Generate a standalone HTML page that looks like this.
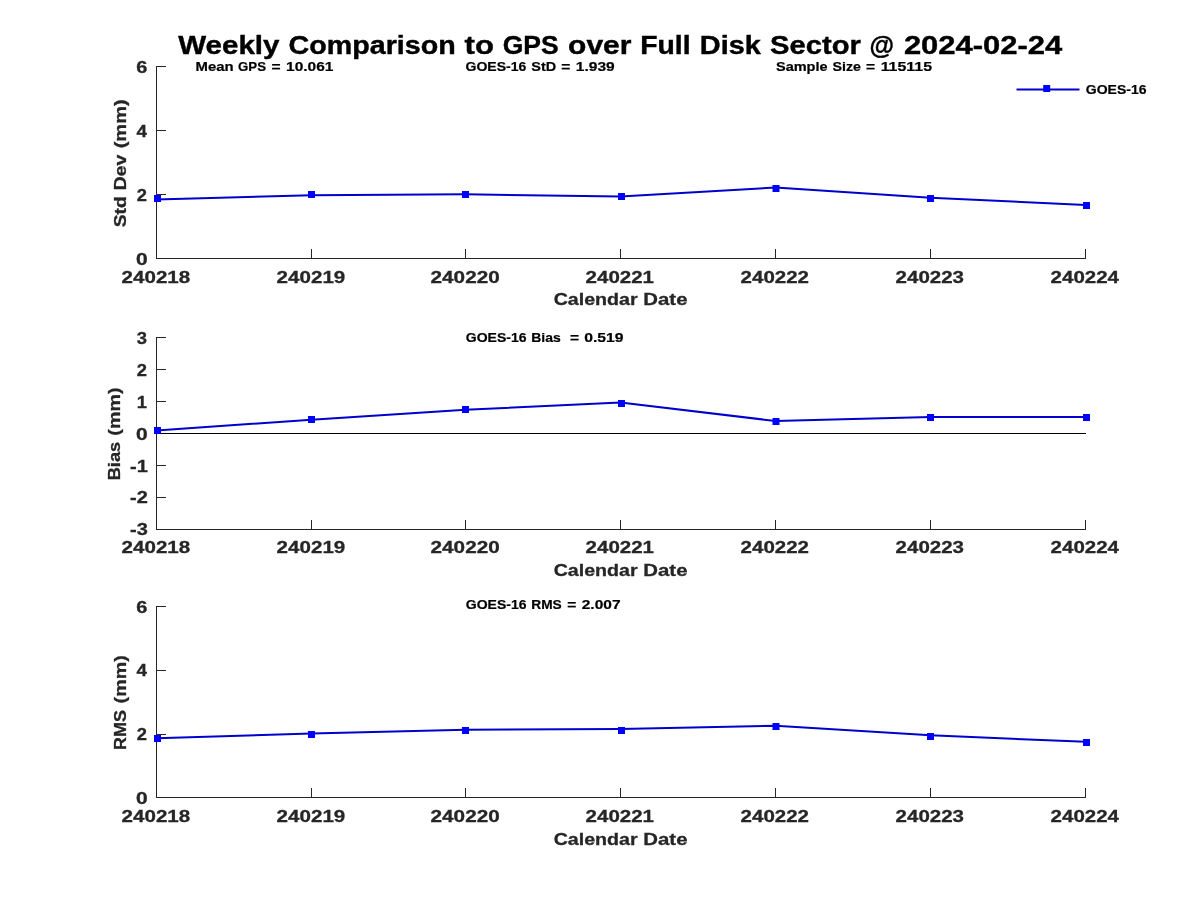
<!DOCTYPE html>
<html><head><meta charset="utf-8"><title>Weekly Comparison to GPS</title>
<style>
html,body{margin:0;padding:0;background:#fff;}
body{width:1200px;height:900px;overflow:hidden;}
svg{display:block;will-change:transform;}
svg text{font-family:"Liberation Sans", sans-serif;font-weight:bold;}
</style></head><body>
<svg width="1200" height="900" viewBox="0 0 1200 900">
<rect x="0" y="0" width="1200" height="900" fill="#ffffff"/>
<text x="177.48" y="53.90" font-size="25.80" fill="#000" stroke="#000" stroke-width="0.4" xml:space="preserve"><tspan x="178.20" textLength="101.28" lengthAdjust="spacingAndGlyphs">Weekly</tspan> <tspan x="288.56" textLength="167.18" lengthAdjust="spacingAndGlyphs">Comparison</tspan> <tspan x="464.59" textLength="29.37" lengthAdjust="spacingAndGlyphs">to</tspan> <tspan x="502.70" textLength="56.00" lengthAdjust="spacingAndGlyphs">GPS</tspan> <tspan x="568.13" textLength="63.36" lengthAdjust="spacingAndGlyphs">over</tspan> <tspan x="640.23" textLength="50.37" lengthAdjust="spacingAndGlyphs">Full</tspan> <tspan x="699.78" textLength="61.03" lengthAdjust="spacingAndGlyphs">Disk</tspan> <tspan x="770.05" textLength="90.83" lengthAdjust="spacingAndGlyphs">Sector</tspan> <tspan x="869.44" textLength="24.52" lengthAdjust="spacingAndGlyphs">@</tspan> <tspan x="903.90" textLength="158.34" lengthAdjust="spacingAndGlyphs">2024-02-24</tspan></text>
<rect x="156" y="66" width="1" height="193" fill="#262626"/>
<rect x="156" y="258" width="930" height="1" fill="#262626"/>
<rect x="311" y="249" width="1" height="9" fill="#262626"/>
<rect x="465" y="249" width="1" height="9" fill="#262626"/>
<rect x="620" y="249" width="1" height="9" fill="#262626"/>
<rect x="775" y="249" width="1" height="9" fill="#262626"/>
<rect x="930" y="249" width="1" height="9" fill="#262626"/>
<rect x="1085" y="249" width="1" height="9" fill="#262626"/>
<rect x="157" y="66" width="9" height="1" fill="#262626"/>
<text x="136.00" y="72.60" font-size="17.17" fill="#262626" stroke="#262626" stroke-width="0.3" xml:space="preserve"><tspan x="136.30" textLength="11.12" lengthAdjust="spacingAndGlyphs">6</tspan></text>
<rect x="157" y="130" width="9" height="1" fill="#262626"/>
<text x="136.00" y="136.60" font-size="17.17" fill="#262626" stroke="#262626" stroke-width="0.3" xml:space="preserve"><tspan x="136.47" textLength="10.47" lengthAdjust="spacingAndGlyphs">4</tspan></text>
<rect x="157" y="194" width="9" height="1" fill="#262626"/>
<text x="136.00" y="200.60" font-size="17.17" fill="#262626" stroke="#262626" stroke-width="0.3" xml:space="preserve"><tspan x="136.68" textLength="10.20" lengthAdjust="spacingAndGlyphs">2</tspan></text>
<text x="136.00" y="264.60" font-size="17.17" fill="#262626" stroke="#262626" stroke-width="0.3" xml:space="preserve"><tspan x="135.97" textLength="11.70" lengthAdjust="spacingAndGlyphs">0</tspan></text>
<text x="121.00" y="283.10" font-size="17.17" fill="#262626" stroke="#262626" stroke-width="0.3" xml:space="preserve"><tspan x="121.61" textLength="68.58" lengthAdjust="spacingAndGlyphs">240218</tspan></text>
<text x="276.00" y="283.10" font-size="17.17" fill="#262626" stroke="#262626" stroke-width="0.3" xml:space="preserve"><tspan x="276.61" textLength="68.68" lengthAdjust="spacingAndGlyphs">240219</tspan></text>
<text x="430.00" y="283.10" font-size="17.17" fill="#262626" stroke="#262626" stroke-width="0.3" xml:space="preserve"><tspan x="430.61" textLength="69.04" lengthAdjust="spacingAndGlyphs">240220</tspan></text>
<text x="585.00" y="283.10" font-size="17.17" fill="#262626" stroke="#262626" stroke-width="0.3" xml:space="preserve"><tspan x="585.61" textLength="68.41" lengthAdjust="spacingAndGlyphs">240221</tspan></text>
<text x="740.00" y="283.10" font-size="17.17" fill="#262626" stroke="#262626" stroke-width="0.3" xml:space="preserve"><tspan x="740.61" textLength="68.35" lengthAdjust="spacingAndGlyphs">240222</tspan></text>
<text x="895.00" y="283.10" font-size="17.17" fill="#262626" stroke="#262626" stroke-width="0.3" xml:space="preserve"><tspan x="895.61" textLength="68.40" lengthAdjust="spacingAndGlyphs">240223</tspan></text>
<text x="1050.00" y="283.10" font-size="17.17" fill="#262626" stroke="#262626" stroke-width="0.3" xml:space="preserve"><tspan x="1050.61" textLength="68.33" lengthAdjust="spacingAndGlyphs">240224</tspan></text>
<text x="553.63" y="304.70" font-size="17.17" fill="#262626" stroke="#262626" stroke-width="0.3" xml:space="preserve"><tspan x="553.65" textLength="84.00" lengthAdjust="spacingAndGlyphs">Calendar</tspan> <tspan x="643.38" textLength="44.08" lengthAdjust="spacingAndGlyphs">Date</tspan></text>
<text x="61.41" y="163.45" font-size="17.17" fill="#262626" stroke="#262626" stroke-width="0.3" transform="rotate(-90 125.90 163.45)" xml:space="preserve"><tspan x="62.04" textLength="31.02" lengthAdjust="spacingAndGlyphs">Std</tspan> <tspan x="99.20" textLength="35.48" lengthAdjust="spacingAndGlyphs">Dev</tspan> <tspan x="141.04" textLength="48.92" lengthAdjust="spacingAndGlyphs">(mm)</tspan></text>
<text x="195.40" y="70.70" font-size="12.88" fill="#000" stroke="#000" stroke-width="0.2" xml:space="preserve"><tspan x="195.55" textLength="38.05" lengthAdjust="spacingAndGlyphs">Mean</tspan> <tspan x="238.08" textLength="27.95" lengthAdjust="spacingAndGlyphs">GPS</tspan> <tspan x="271.46" textLength="9.11" lengthAdjust="spacingAndGlyphs">=</tspan> <tspan x="286.04" textLength="47.37" lengthAdjust="spacingAndGlyphs">10.061</tspan></text>
<text x="465.50" y="70.70" font-size="12.88" fill="#000" stroke="#000" stroke-width="0.2" xml:space="preserve"><tspan x="465.55" textLength="60.80" lengthAdjust="spacingAndGlyphs">GOES-16</tspan> <tspan x="531.34" textLength="24.82" lengthAdjust="spacingAndGlyphs">StD</tspan> <tspan x="561.24" textLength="9.11" lengthAdjust="spacingAndGlyphs">=</tspan> <tspan x="575.82" textLength="38.88" lengthAdjust="spacingAndGlyphs">1.939</tspan></text>
<text x="775.50" y="70.70" font-size="12.88" fill="#000" stroke="#000" stroke-width="0.2" xml:space="preserve"><tspan x="775.98" textLength="51.59" lengthAdjust="spacingAndGlyphs">Sample</tspan> <tspan x="832.51" textLength="28.43" lengthAdjust="spacingAndGlyphs">Size</tspan> <tspan x="866.09" textLength="9.11" lengthAdjust="spacingAndGlyphs">=</tspan> <tspan x="880.65" textLength="51.35" lengthAdjust="spacingAndGlyphs">115115</tspan></text>
<polyline points="156.50,199.40 311.50,195.20 465.50,194.30 620.50,196.40 775.50,187.60 930.50,197.80 1085.50,204.90" fill="none" stroke="#0000cd" stroke-width="2" stroke-linejoin="round"/>
<rect x="154.0" y="195.0" width="7" height="7" fill="#0000ff"/>
<rect x="308.0" y="191.0" width="7" height="7" fill="#0000ff"/>
<rect x="462.0" y="191.0" width="7" height="7" fill="#0000ff"/>
<rect x="618.0" y="193.0" width="7" height="7" fill="#0000ff"/>
<rect x="772.5" y="185.0" width="7" height="7" fill="#0000ff"/>
<rect x="927.0" y="195.0" width="7" height="7" fill="#0000ff"/>
<rect x="1083.0" y="202.0" width="7" height="7" fill="#0000ff"/>
<rect x="1016.5" y="88.5" width="63" height="2" fill="#0000cd"/>
<rect x="1043.2" y="85" width="7" height="7" fill="#0000ff"/>
<text x="1085.70" y="94.00" font-size="12.88" fill="#000" stroke="#000" stroke-width="0.2" xml:space="preserve"><tspan x="1085.75" textLength="60.80" lengthAdjust="spacingAndGlyphs">GOES-16</tspan></text>
<rect x="156" y="337" width="1" height="193" fill="#262626"/>
<rect x="156" y="529" width="930" height="1" fill="#262626"/>
<rect x="311" y="520" width="1" height="9" fill="#262626"/>
<rect x="465" y="520" width="1" height="9" fill="#262626"/>
<rect x="620" y="520" width="1" height="9" fill="#262626"/>
<rect x="775" y="520" width="1" height="9" fill="#262626"/>
<rect x="930" y="520" width="1" height="9" fill="#262626"/>
<rect x="1085" y="520" width="1" height="9" fill="#262626"/>
<rect x="157" y="337" width="9" height="1" fill="#262626"/>
<text x="136.00" y="343.60" font-size="17.17" fill="#262626" stroke="#262626" stroke-width="0.3" xml:space="preserve"><tspan x="136.69" textLength="10.25" lengthAdjust="spacingAndGlyphs">3</tspan></text>
<rect x="157" y="369" width="9" height="1" fill="#262626"/>
<text x="136.00" y="375.60" font-size="17.17" fill="#262626" stroke="#262626" stroke-width="0.3" xml:space="preserve"><tspan x="136.68" textLength="10.20" lengthAdjust="spacingAndGlyphs">2</tspan></text>
<rect x="157" y="401" width="9" height="1" fill="#262626"/>
<text x="136.00" y="407.60" font-size="17.17" fill="#262626" stroke="#262626" stroke-width="0.3" xml:space="preserve"><tspan x="136.72" textLength="10.24" lengthAdjust="spacingAndGlyphs">1</tspan></text>
<rect x="157" y="433" width="9" height="1" fill="#262626"/>
<text x="136.00" y="439.60" font-size="17.17" fill="#262626" stroke="#262626" stroke-width="0.3" xml:space="preserve"><tspan x="135.97" textLength="11.70" lengthAdjust="spacingAndGlyphs">0</tspan></text>
<rect x="157" y="465" width="9" height="1" fill="#262626"/>
<text x="129.93" y="471.60" font-size="17.17" fill="#262626" stroke="#262626" stroke-width="0.3" xml:space="preserve"><tspan x="130.05" textLength="17.81" lengthAdjust="spacingAndGlyphs">-1</tspan></text>
<rect x="157" y="497" width="9" height="1" fill="#262626"/>
<text x="129.93" y="502.60" font-size="17.17" fill="#262626" stroke="#262626" stroke-width="0.3" xml:space="preserve"><tspan x="130.06" textLength="17.74" lengthAdjust="spacingAndGlyphs">-2</tspan></text>
<text x="129.93" y="534.60" font-size="17.17" fill="#262626" stroke="#262626" stroke-width="0.3" xml:space="preserve"><tspan x="130.06" textLength="17.79" lengthAdjust="spacingAndGlyphs">-3</tspan></text>
<text x="121.00" y="553.00" font-size="17.17" fill="#262626" stroke="#262626" stroke-width="0.3" xml:space="preserve"><tspan x="121.61" textLength="68.58" lengthAdjust="spacingAndGlyphs">240218</tspan></text>
<text x="276.00" y="553.00" font-size="17.17" fill="#262626" stroke="#262626" stroke-width="0.3" xml:space="preserve"><tspan x="276.61" textLength="68.68" lengthAdjust="spacingAndGlyphs">240219</tspan></text>
<text x="430.00" y="553.00" font-size="17.17" fill="#262626" stroke="#262626" stroke-width="0.3" xml:space="preserve"><tspan x="430.61" textLength="69.04" lengthAdjust="spacingAndGlyphs">240220</tspan></text>
<text x="585.00" y="553.00" font-size="17.17" fill="#262626" stroke="#262626" stroke-width="0.3" xml:space="preserve"><tspan x="585.61" textLength="68.41" lengthAdjust="spacingAndGlyphs">240221</tspan></text>
<text x="740.00" y="553.00" font-size="17.17" fill="#262626" stroke="#262626" stroke-width="0.3" xml:space="preserve"><tspan x="740.61" textLength="68.35" lengthAdjust="spacingAndGlyphs">240222</tspan></text>
<text x="895.00" y="553.00" font-size="17.17" fill="#262626" stroke="#262626" stroke-width="0.3" xml:space="preserve"><tspan x="895.61" textLength="68.40" lengthAdjust="spacingAndGlyphs">240223</tspan></text>
<text x="1050.00" y="553.00" font-size="17.17" fill="#262626" stroke="#262626" stroke-width="0.3" xml:space="preserve"><tspan x="1050.61" textLength="68.33" lengthAdjust="spacingAndGlyphs">240224</tspan></text>
<text x="553.63" y="575.70" font-size="17.17" fill="#262626" stroke="#262626" stroke-width="0.3" xml:space="preserve"><tspan x="553.65" textLength="84.00" lengthAdjust="spacingAndGlyphs">Calendar</tspan> <tspan x="643.38" textLength="44.08" lengthAdjust="spacingAndGlyphs">Date</tspan></text>
<text x="73.27" y="433.85" font-size="17.17" fill="#262626" stroke="#262626" stroke-width="0.3" transform="rotate(-90 120.00 433.85)" xml:space="preserve"><tspan x="73.55" textLength="38.49" lengthAdjust="spacingAndGlyphs">Bias</tspan> <tspan x="118.18" textLength="48.13" lengthAdjust="spacingAndGlyphs">(mm)</tspan></text>
<rect x="156" y="433" width="930" height="1" fill="#000"/>
<text x="465.70" y="341.70" font-size="12.88" fill="#000" stroke="#000" stroke-width="0.2" xml:space="preserve"><tspan x="465.75" textLength="60.80" lengthAdjust="spacingAndGlyphs">GOES-16</tspan> <tspan x="531.28" textLength="29.45" lengthAdjust="spacingAndGlyphs">Bias</tspan>  <tspan x="570.13" textLength="9.11" lengthAdjust="spacingAndGlyphs">=</tspan> <tspan x="584.25" textLength="39.35" lengthAdjust="spacingAndGlyphs">0.519</tspan></text>
<polyline points="156.50,430.60 311.50,419.70 465.50,409.80 620.50,402.50 775.50,421.00 930.50,417.00 1085.50,417.00" fill="none" stroke="#0000cd" stroke-width="2" stroke-linejoin="round"/>
<rect x="154.0" y="427.0" width="7" height="7" fill="#0000ff"/>
<rect x="308.0" y="416.0" width="7" height="7" fill="#0000ff"/>
<rect x="462.0" y="406.0" width="7" height="7" fill="#0000ff"/>
<rect x="618.0" y="400.0" width="7" height="7" fill="#0000ff"/>
<rect x="772.5" y="418.0" width="7" height="7" fill="#0000ff"/>
<rect x="927.0" y="414.0" width="7" height="7" fill="#0000ff"/>
<rect x="1083.0" y="414.0" width="7" height="7" fill="#0000ff"/>
<rect x="156" y="606" width="1" height="192" fill="#262626"/>
<rect x="156" y="797" width="930" height="1" fill="#262626"/>
<rect x="311" y="788" width="1" height="9" fill="#262626"/>
<rect x="465" y="788" width="1" height="9" fill="#262626"/>
<rect x="620" y="788" width="1" height="9" fill="#262626"/>
<rect x="775" y="788" width="1" height="9" fill="#262626"/>
<rect x="930" y="788" width="1" height="9" fill="#262626"/>
<rect x="1085" y="788" width="1" height="9" fill="#262626"/>
<rect x="157" y="606" width="9" height="1" fill="#262626"/>
<text x="136.00" y="612.60" font-size="17.17" fill="#262626" stroke="#262626" stroke-width="0.3" xml:space="preserve"><tspan x="136.30" textLength="11.12" lengthAdjust="spacingAndGlyphs">6</tspan></text>
<rect x="157" y="670" width="9" height="1" fill="#262626"/>
<text x="136.00" y="675.60" font-size="17.17" fill="#262626" stroke="#262626" stroke-width="0.3" xml:space="preserve"><tspan x="136.47" textLength="10.47" lengthAdjust="spacingAndGlyphs">4</tspan></text>
<rect x="157" y="734" width="9" height="1" fill="#262626"/>
<text x="136.00" y="739.60" font-size="17.17" fill="#262626" stroke="#262626" stroke-width="0.3" xml:space="preserve"><tspan x="136.68" textLength="10.20" lengthAdjust="spacingAndGlyphs">2</tspan></text>
<text x="136.00" y="803.60" font-size="17.17" fill="#262626" stroke="#262626" stroke-width="0.3" xml:space="preserve"><tspan x="135.97" textLength="11.70" lengthAdjust="spacingAndGlyphs">0</tspan></text>
<text x="121.00" y="821.70" font-size="17.17" fill="#262626" stroke="#262626" stroke-width="0.3" xml:space="preserve"><tspan x="121.61" textLength="68.58" lengthAdjust="spacingAndGlyphs">240218</tspan></text>
<text x="276.00" y="821.70" font-size="17.17" fill="#262626" stroke="#262626" stroke-width="0.3" xml:space="preserve"><tspan x="276.61" textLength="68.68" lengthAdjust="spacingAndGlyphs">240219</tspan></text>
<text x="430.00" y="821.70" font-size="17.17" fill="#262626" stroke="#262626" stroke-width="0.3" xml:space="preserve"><tspan x="430.61" textLength="69.04" lengthAdjust="spacingAndGlyphs">240220</tspan></text>
<text x="585.00" y="821.70" font-size="17.17" fill="#262626" stroke="#262626" stroke-width="0.3" xml:space="preserve"><tspan x="585.61" textLength="68.41" lengthAdjust="spacingAndGlyphs">240221</tspan></text>
<text x="740.00" y="821.70" font-size="17.17" fill="#262626" stroke="#262626" stroke-width="0.3" xml:space="preserve"><tspan x="740.61" textLength="68.35" lengthAdjust="spacingAndGlyphs">240222</tspan></text>
<text x="895.00" y="821.70" font-size="17.17" fill="#262626" stroke="#262626" stroke-width="0.3" xml:space="preserve"><tspan x="895.61" textLength="68.40" lengthAdjust="spacingAndGlyphs">240223</tspan></text>
<text x="1050.00" y="821.70" font-size="17.17" fill="#262626" stroke="#262626" stroke-width="0.3" xml:space="preserve"><tspan x="1050.61" textLength="68.33" lengthAdjust="spacingAndGlyphs">240224</tspan></text>
<text x="553.63" y="844.60" font-size="17.17" fill="#262626" stroke="#262626" stroke-width="0.3" xml:space="preserve"><tspan x="553.65" textLength="84.00" lengthAdjust="spacingAndGlyphs">Calendar</tspan> <tspan x="643.38" textLength="44.08" lengthAdjust="spacingAndGlyphs">Date</tspan></text>
<text x="78.52" y="702.50" font-size="17.17" fill="#262626" stroke="#262626" stroke-width="0.3" transform="rotate(-90 126.20 702.50)" xml:space="preserve"><tspan x="78.82" textLength="39.85" lengthAdjust="spacingAndGlyphs">RMS</tspan> <tspan x="125.28" textLength="48.18" lengthAdjust="spacingAndGlyphs">(mm)</tspan></text>
<text x="465.70" y="609.30" font-size="12.88" fill="#000" stroke="#000" stroke-width="0.2" xml:space="preserve"><tspan x="465.75" textLength="60.80" lengthAdjust="spacingAndGlyphs">GOES-16</tspan> <tspan x="531.29" textLength="30.46" lengthAdjust="spacingAndGlyphs">RMS</tspan> <tspan x="567.16" textLength="9.11" lengthAdjust="spacingAndGlyphs">=</tspan> <tspan x="581.76" textLength="38.77" lengthAdjust="spacingAndGlyphs">2.007</tspan></text>
<polyline points="156.50,738.30 311.50,733.60 465.50,729.70 620.50,729.00 775.50,725.80 930.50,735.30 1085.50,741.80" fill="none" stroke="#0000cd" stroke-width="2" stroke-linejoin="round"/>
<rect x="154.0" y="735.0" width="7" height="7" fill="#0000ff"/>
<rect x="308.0" y="731.0" width="7" height="7" fill="#0000ff"/>
<rect x="462.0" y="727.0" width="7" height="7" fill="#0000ff"/>
<rect x="618.0" y="727.0" width="7" height="7" fill="#0000ff"/>
<rect x="772.5" y="723.0" width="7" height="7" fill="#0000ff"/>
<rect x="927.0" y="733.0" width="7" height="7" fill="#0000ff"/>
<rect x="1083.0" y="739.0" width="7" height="7" fill="#0000ff"/>
</svg>
</body></html>
